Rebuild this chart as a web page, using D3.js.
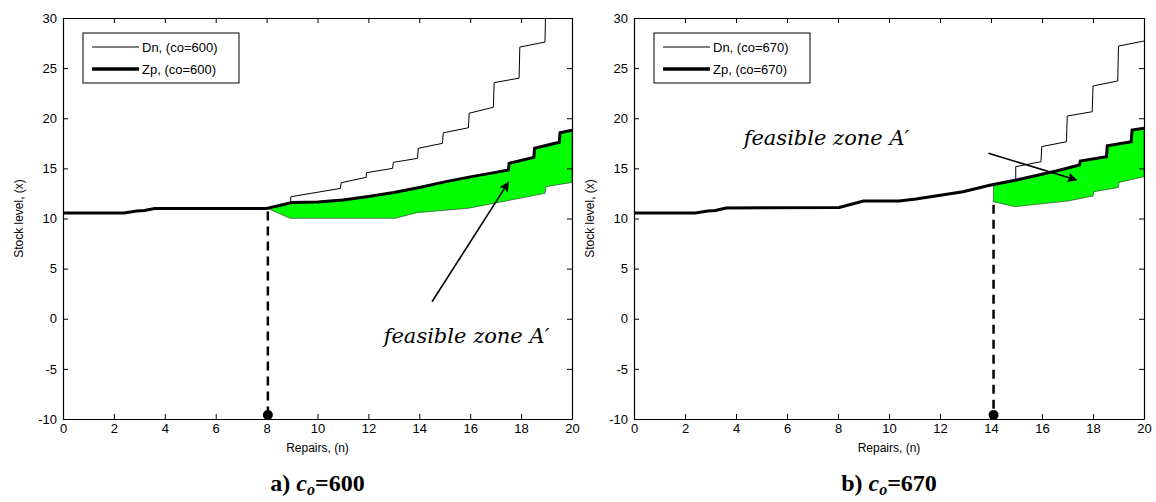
<!DOCTYPE html>
<html>
<head>
<meta charset="utf-8">
<script src="https://cdn.jsdelivr.net/npm/d3@7/dist/d3.min.js"></script>
<style>
body { margin: 0; background: #fff; }
svg text { font-family: "Liberation Sans", Arial, sans-serif; fill: #000; }
.tick line, .domain { stroke: #000; }
</style>
</head>
<body>
<svg id="chart" width="1156" height="502"></svg>
<script>
// tick values shared by both panels
var xTicks = [0, 2, 4, 6, 8, 10, 12, 14, 16, 18, 20];
var yTicks = [-10, -5, 0, 5, 10, 15, 20, 25, 30];

// panel a) co=600 : [repairs n, stock level x]
var zpA = [[0,10.55],[2.4,10.55],[2.9,10.75],[3.2,10.8],[3.6,11.0],[8.0,11.0],[8.5,11.3],[9.0,11.6],
           [10.0,11.65],[11.0,11.85],[12.0,12.2],[13.0,12.6],[14.0,13.1],[15.0,13.65],[16.0,14.15],
           [17.0,14.6],[17.5,14.85],[17.53,15.5],[18.5,16.1],[18.53,17.0],[19.5,17.6],[19.53,18.55],[20,18.8]];
var dnA = [[8.95,11.65],[8.95,12.17],[10.9,13.0],[10.93,13.57],[11.91,14.1],[11.93,14.57],[12.95,15.0],
           [12.98,15.6],[13.93,16.0],[13.96,17.0],[14.91,17.5],[14.94,18.55],[15.93,19.05],[15.96,20.5],
           [16.91,21.1],[16.94,23.55],[17.92,24.0],[17.95,27.1],[18.94,27.6],[18.97,32]];
var lowA = [[8.05,11.0],[8.92,10.02],[13.05,10.02],[13.9,10.58],[15.93,11.02],[18.94,12.51],
            [18.97,13.17],[20,13.6]];
var nStarA = 8.05;

// panel b) co=670
var zpB = [[0,10.55],[2.4,10.55],[2.9,10.75],[3.2,10.8],[3.6,11.05],[8.05,11.1],[9.0,11.75],[10.4,11.75],
           [11.06,11.94],[12.9,12.67],[13.95,13.31],[15.0,13.84],[16.56,14.74],[17.47,15.34],[17.5,15.74],
           [18.53,16.17],[18.56,17.26],[19.5,17.66],[19.53,18.83],[20,19.0]];
var dnB = [[14.97,13.84],[14.97,15.17],[15.96,15.67],[15.99,17.17],[16.96,17.66],[16.99,20.22],
           [17.97,20.65],[18.0,23.22],[18.97,23.72],[19.0,27.2],[20,27.7]];
var lowB = [[14.09,11.68],[14.94,11.18],[17.03,11.75],[18.0,12.24],[18.03,12.67],[18.99,13.08],
            [19.02,13.6],[20,14.17]];
var nStarB = 14.1;

var panels = [
    { key: 'a', co: 600, zp: zpA, dn: dnA, low: lowA, nStar: nStarA, left: 63, right: 572,
      arrow: [[14.5, 1.7], [17.5, 13.6]], label: [12.6, -2.4] },
    { key: 'b', co: 670, zp: zpB, dn: dnB, low: lowB, nStar: nStarB, left: 634, right: 1144,
      arrow: [[13.9, 16.5], [17.35, 13.85]], label: [4.3, 17.3] }
];

var svg = d3.select('#chart');
var plotTop = 18, plotBottom = 419;

var defs = svg.append('defs');
defs.append('marker')
    .attr('id', 'head')
    .attr('viewBox', '0 0 10 10')
    .attr('refX', 9).attr('refY', 5)
    .attr('markerWidth', 10).attr('markerHeight', 10)
    .attr('markerUnits', 'userSpaceOnUse')
    .attr('orient', 'auto')
    .append('path')
    .attr('d', 'M0,0L10,5L0,10L2,5Z')
    .attr('fill', '#000');

// linear lookup on the Zp points, used to cut the green zone at n*
function valueAt(pts, n) {
    for (var i = 1; i < pts.length; i++) {
        if (n <= pts[i][0]) {
            var a = pts[i - 1], b = pts[i];
            var t = (n - a[0]) / ((b[0] - a[0]) || 1);
            return a[1] + t * (b[1] - a[1]);
        }
    }
    return pts[pts.length - 1][1];
}

panels.forEach(function (p) {
    var x = d3.scaleLinear().domain([0, 20]).range([p.left, p.right]);
    var y = d3.scaleLinear().domain([-10, 30]).range([plotBottom, plotTop]);
    var line = d3.line().x(function (d) { return x(d[0]); }).y(function (d) { return y(d[1]); });

    var g = svg.append('g');

    defs.append('clipPath').attr('id', 'clip-' + p.key)
        .append('rect')
        .attr('x', p.left).attr('y', plotTop)
        .attr('width', p.right - p.left).attr('height', plotBottom - plotTop);

    var plot = g.append('g').attr('clip-path', 'url(#clip-' + p.key + ')');

    // feasible zone: lower bound forward, then Zp back to n*
    var upper = p.zp.filter(function (d) { return d[0] > p.nStar; }).reverse();
    upper.push([p.nStar, valueAt(p.zp, p.nStar)]);
    plot.append('path')
        .attr('d', line(p.low.concat(upper)) + 'Z')
        .attr('fill', '#00ff00')
        .attr('stroke', '#2a2a2a')
        .attr('stroke-width', 0.6);

    plot.append('path')
        .attr('d', line(p.dn))
        .attr('fill', 'none')
        .attr('stroke', '#000')
        .attr('stroke-width', 1);

    plot.append('path')
        .attr('d', line(p.zp))
        .attr('fill', 'none')
        .attr('stroke', '#000')
        .attr('stroke-width', 3);

    // n* marker
    plot.append('line')
        .attr('x1', x(p.nStar)).attr('x2', x(p.nStar))
        .attr('y1', y(p.low[0][1] - 0.3)).attr('y2', y(-9.6))
        .attr('stroke', '#000')
        .attr('stroke-width', 2.5)
        .attr('stroke-dasharray', '9,6');
    g.append('circle')
        .attr('cx', x(p.nStar)).attr('cy', y(-9.6))
        .attr('r', 5)
        .attr('fill', '#000');

    // axes, ticks inside on all four sides
    g.append('g')
        .attr('transform', 'translate(0,' + plotBottom + ')')
        .call(d3.axisBottom(x).tickValues(xTicks).tickFormat(String)
            .tickSizeInner(-5).tickSizeOuter(0).tickPadding(5))
        .call(function (a) { a.selectAll('text').style('font-size', '13px'); });
    g.append('g')
        .attr('transform', 'translate(0,' + plotTop + ')')
        .call(d3.axisTop(x).tickValues(xTicks).tickSizeInner(-5).tickSizeOuter(0).tickFormat(''));
    g.append('g')
        .attr('transform', 'translate(' + p.left + ',0)')
        .call(d3.axisLeft(y).tickValues(yTicks).tickFormat(String)
            .tickSizeInner(-5).tickSizeOuter(0).tickPadding(6))
        .call(function (a) { a.selectAll('text').style('font-size', '13px'); });
    g.append('g')
        .attr('transform', 'translate(' + p.right + ',0)')
        .call(d3.axisRight(y).tickValues(yTicks).tickSizeInner(-5).tickSizeOuter(0).tickFormat(''));
    g.selectAll('.domain').attr('stroke-width', 1.2);

    g.append('text')
        .attr('x', (p.left + p.right) / 2).attr('y', 452)
        .attr('text-anchor', 'middle')
        .style('font-size', '12px')
        .text('Repairs, (n)');
    g.append('text')
        .attr('transform', 'translate(' + (p.left - 40) + ',' + ((plotTop + plotBottom) / 2) + ') rotate(-90)')
        .attr('text-anchor', 'middle')
        .style('font-size', '12px')
        .text('Stock level, (x)');

    // legend
    var lg = g.append('g').attr('transform', 'translate(' + (p.left + 20) + ',33)');
    lg.append('rect')
        .attr('width', 156).attr('height', 50)
        .attr('fill', '#fff').attr('stroke', '#000').attr('stroke-width', 1);
    [['Dn', 1], ['Zp', 3.5]].forEach(function (s, i) {
        lg.append('line')
            .attr('x1', 9).attr('x2', 56)
            .attr('y1', 14 + i * 22).attr('y2', 14 + i * 22)
            .attr('stroke', '#000').attr('stroke-width', s[1]);
        lg.append('text')
            .attr('x', 59).attr('y', 19 + i * 22)
            .style('font-size', '13px')
            .text(s[0] + ', (co=' + p.co + ')');
    });

    // annotation
    g.append('line')
        .attr('x1', x(p.arrow[0][0])).attr('y1', y(p.arrow[0][1]))
        .attr('x2', x(p.arrow[1][0])).attr('y2', y(p.arrow[1][1]))
        .attr('stroke', '#000').attr('stroke-width', 1.6)
        .attr('marker-end', 'url(#head)');
    g.append('text')
        .attr('x', x(p.label[0])).attr('y', y(p.label[1]))
        .style('font-family', '"DejaVu Serif", serif')
        .style('font-style', 'italic')
        .style('font-size', '21px')
        .text('feasible zone A\u2032');

    // caption
    var cap = g.append('text')
        .attr('x', (p.left + p.right) / 2).attr('y', 491)
        .attr('text-anchor', 'middle')
        .style('font-family', '"Liberation Serif", "Times New Roman", serif')
        .style('font-weight', 'bold')
        .style('font-size', '24px');
    cap.append('tspan').text(p.key + ') ');
    cap.append('tspan').style('font-style', 'italic').text('c');
    cap.append('tspan').style('font-style', 'italic').style('font-size', '16px').attr('dy', 4).text('o');
    cap.append('tspan').attr('dy', -4).text('=' + p.co);
});
</script>
</body>
</html>
